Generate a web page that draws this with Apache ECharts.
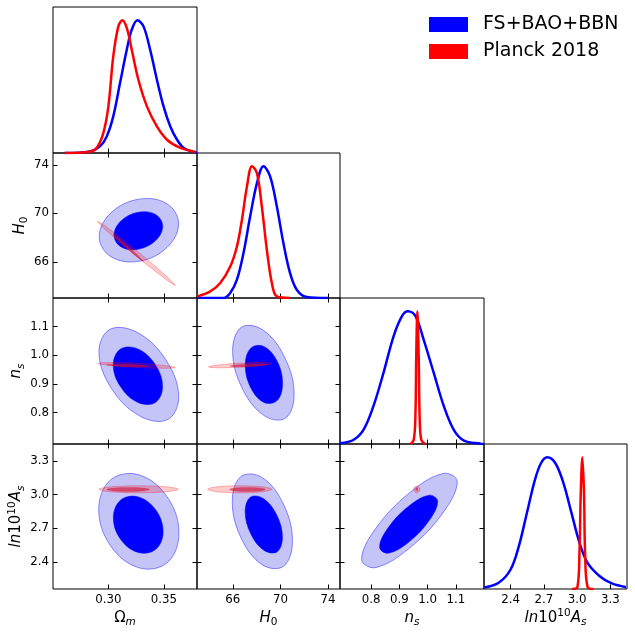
<!DOCTYPE html>
<html>
<head>
<meta charset="utf-8">
<script src="https://cdn.jsdelivr.net/npm/echarts@6/dist/echarts.min.js"></script>
<style>
  html, body { margin: 0; padding: 0; background: #fff; }
  #main { width: 635px; height: 636px; }
</style>
</head>
<body>
<div id="main"></div>
<script>
// axis ranges and tick labels
const omRange = [0.25, 0.38];
const h0Range = [63, 75];
const nsRange = [0.69, 1.2];
const asRange = [2.16, 3.45];
const omTicks = [0.30, 0.35];
const h0Ticks = [66, 70, 74];
const nsTicks = [0.8, 0.9, 1.0, 1.1];
const asTicks = [2.4, 2.7, 3.0, 3.3];

// 1D marginals [value, normalised density]
const omBlue1d = [[0.2606,0],[0.2833,0.012],[0.2924,0.05],[0.2985,0.125],[0.3044,0.276],[0.3105,0.527],[0.3166,0.778],[0.3211,0.929],[0.3262,1.0],[0.3317,0.954],[0.3377,0.778],[0.3438,0.552],[0.3498,0.351],[0.3559,0.2],[0.3620,0.1],[0.3680,0.038],[0.3770,0.008],[0.38,0.004]];
const omRed1d = [[0.2606,0],[0.2833,0.01],[0.2894,0.038],[0.2954,0.15],[0.3000,0.351],[0.3044,0.728],[0.3090,0.954],[0.3126,1.0],[0.3166,0.942],[0.3211,0.778],[0.3271,0.552],[0.3348,0.351],[0.3438,0.2],[0.3529,0.1],[0.3650,0.038],[0.3786,0.008]];
const h0Blue1d = [[63,0],[65.23,0],[65.79,0.038],[66.35,0.139],[66.9,0.341],[67.46,0.618],[68.03,0.871],[68.58,1.0],[69.14,0.921],[69.70,0.694],[70.25,0.417],[70.81,0.189],[71.37,0.063],[72.2,0.008],[74.0,0]];
const h0Red1d = [[63.05,0.012],[64.11,0.05],[64.95,0.114],[65.79,0.239],[66.35,0.391],[66.77,0.593],[67.19,0.845],[67.61,1.0],[68.03,0.947],[68.44,0.694],[68.86,0.366],[69.28,0.114],[69.7,0.012],[70.81,0]];
const nsBlue1d = [[0.69,0.005],[0.737,0.03],[0.773,0.106],[0.808,0.283],[0.844,0.536],[0.880,0.813],[0.910,0.965],[0.931,1.0],[0.957,0.965],[0.986,0.788],[1.022,0.536],[1.058,0.283],[1.093,0.106],[1.129,0.025],[1.188,0.002],[1.2,0]];
const nsRed1d = [[0.939,0],[0.951,0.03],[0.957,0.207],[0.960,0.66],[0.964,1.0],[0.9687,0.66],[0.972,0.207],[0.978,0.03],[0.9925,0]];
const asBlue1d = [[2.164,0.011],[2.292,0.047],[2.4,0.148],[2.474,0.324],[2.547,0.577],[2.620,0.83],[2.675,0.956],[2.730,1.0],[2.803,0.956],[2.876,0.805],[2.949,0.577],[3.022,0.35],[3.094,0.198],[3.204,0.097],[3.313,0.042],[3.441,0.014]];
const asRed1d = [[2.956,0],[3.003,0.015],[3.021,0.27],[3.033,0.73],[3.047,1.0],[3.062,0.73],[3.072,0.27],[3.094,0.015],[3.149,0]];

// 2D contours, outline vertices [x, y] (95% and 68%)
const h0OmBlue95 = [[0.3634,69.15],[0.3529,70.80],[0.3276,71.18],[0.3023,70.04],[0.2917,68.07],[0.3023,66.42],[0.3276,66.04],[0.3529,67.18]];
const h0OmBlue68 = [[0.3490,68.94],[0.3426,69.91],[0.3270,70.10],[0.3115,69.39],[0.3051,68.20],[0.3115,67.23],[0.3270,67.04],[0.3426,67.75]];
const h0OmRed95 = [[0.3604,64.04],[0.3510,64.92],[0.3266,66.83],[0.3015,68.66],[0.2903,69.34],[0.2997,68.46],[0.3241,66.55],[0.3493,64.72]];
const h0OmRed68 = [[0.3317,66.03],[0.3281,66.40],[0.3187,67.20],[0.3089,67.96],[0.3044,68.24],[0.3080,67.86],[0.3174,67.06],[0.3272,66.30]];

const nsOmBlue95 = [[0.3635,0.8521],[0.3530,0.9773],[0.3275,1.0765],[0.3020,1.0917],[0.2915,1.0139],[0.3020,0.8887],[0.3275,0.7895],[0.3530,0.7744]];
const nsOmBlue68 = [[0.3489,0.8898],[0.3424,0.9671],[0.3267,1.0220],[0.3110,1.0220],[0.3044,0.9671],[0.3110,0.8898],[0.3267,0.8349],[0.3424,0.8349]];
const nsOmRed95 = [[0.3604,0.9573],[0.3502,0.9643],[0.3256,0.9714],[0.3010,0.9743],[0.2908,0.9714],[0.3010,0.9644],[0.3256,0.9574],[0.3502,0.9545]];
const nsOmRed68 = [[0.3362,0.9619],[0.3307,0.9654],[0.3174,0.9682],[0.3040,0.9686],[0.2985,0.9664],[0.3040,0.9629],[0.3174,0.9602],[0.3307,0.9597]];

const nsH0Blue95 = [[71.15,0.8616],[70.40,0.9890],[68.57,1.0871],[66.74,1.0983],[65.99,1.0164],[66.74,0.8891],[68.57,0.7909],[70.40,0.7797]];
const nsH0Blue68 = [[70.18,0.9014],[69.72,0.9798],[68.61,1.0308],[67.51,1.0245],[67.05,0.9647],[67.51,0.8862],[68.61,0.8352],[69.72,0.8416]];
const nsH0Red95 = [[69.28,0.9714],[68.50,0.9746],[66.63,0.9724],[64.75,0.9661],[63.97,0.9594],[64.75,0.9562],[66.63,0.9584],[68.50,0.9647]];
const nsH0Red68 = [[68.86,0.968],[68.41,0.9700],[67.33,0.969],[66.24,0.9657],[65.79,0.962],[66.24,0.9600],[67.33,0.961],[68.41,0.9643]];

const asOmBlue95 = [[0.3637,2.6555],[0.3531,2.9794],[0.3275,3.1760],[0.3019,3.1306],[0.2913,2.8690],[0.3019,2.5452],[0.3275,2.3486],[0.3531,2.3940]];
const asOmBlue68 = [[0.3494,2.6697],[0.3428,2.8628],[0.3270,2.9794],[0.3111,2.9509],[0.3045,2.7943],[0.3111,2.6012],[0.3270,2.4847],[0.3428,2.5132]];
const asOmRed95 = [[0.3631,3.047],[0.3526,3.069],[0.3273,3.078],[0.3019,3.069],[0.2914,3.047],[0.3019,3.025],[0.3273,3.016],[0.3526,3.025]];
const asOmRed68 = [[0.3371,3.045],[0.3315,3.058],[0.3178,3.063],[0.3042,3.058],[0.2985,3.045],[0.3042,3.032],[0.3178,3.027],[0.3315,3.032]];

const asH0Blue95 = [[71.01,2.5843],[70.27,2.9109],[68.49,3.1502],[66.70,3.1617],[65.96,2.9402],[66.70,2.6137],[68.49,2.3744],[70.27,2.3628]];
const asH0Blue68 = [[70.17,2.6181],[69.71,2.8139],[68.60,2.9625],[67.50,2.9776],[67.04,2.8495],[67.50,2.6537],[68.60,2.5052],[69.71,2.4900]];
const asH0Red95 = [[69.29,3.047],[68.50,3.069],[66.60,3.078],[64.69,3.069],[63.9,3.047],[64.69,3.025],[66.60,3.016],[68.50,3.025]];
const asH0Red68 = [[68.72,3.045],[68.28,3.058],[67.23,3.063],[66.17,3.058],[65.73,3.045],[66.17,3.032],[67.23,3.027],[68.28,3.032]];

const asNsBlue95 = [[1.1053,3.1164],[1.0557,3.1884],[0.9359,3.0150],[0.8162,2.6973],[0.7665,2.4224],[0.8162,2.3504],[0.9359,2.5238],[1.0557,2.8415]];
const asNsBlue68 = [[1.0359,2.9411],[1.0057,2.9945],[0.9331,2.8966],[0.8605,2.7044],[0.8302,2.5319],[0.8605,2.4785],[0.9331,2.5763],[1.0057,2.7685]];
const asNsRed95 = [[0.973,3.047],[0.9698,3.068],[0.962,3.077],[0.9542,3.068],[0.951,3.047],[0.9542,3.026],[0.962,3.017],[0.9698,3.026]];
const asNsRed68 = [[0.966,3.047],[0.9648,3.056],[0.962,3.060],[0.9592,3.056],[0.958,3.047],[0.9592,3.038],[0.962,3.034],[0.9648,3.038]];

const blueName = 'FS+BAO+BBN';
const redName = 'Planck 2018';

// panel layout (pixel edges of the grid cells)
const colEdges = [53, 197, 340, 484, 627];
const rowEdges = [7, 153, 298, 444, 589];

const params = [
  { range: omRange, ticks: omTicks, dec: 2, name: '{rm|Ω}{sub|m}' },
  { range: h0Range, ticks: h0Ticks, dec: 0, name: '{it|H}{subr|0}' },
  { range: nsRange, ticks: nsTicks, dec: 1, name: '{it|n}{sub|s}' },
  { range: asRange, ticks: asTicks, dec: 1, name: '{it|ln}{rm|10}{sup|10}{it|A}{sub|s}' }
];

const marginals = [
  [omBlue1d, omRed1d], [h0Blue1d, h0Red1d], [nsBlue1d, nsRed1d], [asBlue1d, asRed1d]
];

const contours = {
  '1-0': [h0OmBlue95, h0OmBlue68, h0OmRed95, h0OmRed68],
  '2-0': [nsOmBlue95, nsOmBlue68, nsOmRed95, nsOmRed68],
  '2-1': [nsH0Blue95, nsH0Blue68, nsH0Red95, nsH0Red68],
  '3-0': [asOmBlue95, asOmBlue68, asOmRed95, asOmRed68],
  '3-1': [asH0Blue95, asH0Blue68, asH0Red95, asH0Red68],
  '3-2': [asNsBlue95, asNsBlue68, asNsRed95, asNsRed68]
};

const contourStyle = [
  { name: blueName, fill: '#c4c4f7', stroke: 'rgba(0,0,255,0.55)', lw: 0.8 },
  { name: blueName, fill: '#0000ff', stroke: '#0000ff', lw: 0.5 },
  { name: redName, fill: 'rgba(255,0,0,0.2)', stroke: 'rgba(255,0,0,0.35)', lw: 0.8 },
  { name: redName, fill: 'rgba(215,15,45,0.6)', stroke: 'rgba(215,15,45,0.6)', lw: 0.3 }
];

const FONT = 'DejaVu Sans';
const nameRich = {
  rm: { fontSize: 15, fontFamily: FONT, lineHeight: 20, verticalAlign: 'middle', color: '#000' },
  it: { fontSize: 15, fontFamily: FONT, fontStyle: 'italic', lineHeight: 20, verticalAlign: 'middle', color: '#000' },
  sub: { fontSize: 10.5, fontFamily: FONT, fontStyle: 'italic', lineHeight: 10, verticalAlign: 'bottom', color: '#000' },
  subr: { fontSize: 10.5, fontFamily: FONT, lineHeight: 10, verticalAlign: 'bottom', color: '#000' },
  sup: { fontSize: 10.5, fontFamily: FONT, lineHeight: 10, verticalAlign: 'top', color: '#000' }
};

const grids = [], xAxes = [], yAxes = [], series = [];

function tickAxis(p, extra) {
  return Object.assign({
    type: 'value',
    min: p.range[0],
    max: p.range[1],
    axisLine: { show: false },
    splitLine: { show: false },
    axisTick: { show: true, inside: true, length: 4.5, customValues: p.ticks, lineStyle: { color: '#000', width: 1 } },
    axisLabel: { show: false }
  }, extra);
}

function labelOpts(p, margin) {
  return {
    show: true, margin: margin, customValues: p.ticks,
    fontFamily: FONT, fontSize: 11.8, color: '#000',
    formatter: v => Number(v).toFixed(p.dec)
  };
}

for (let i = 0; i < 4; i++) {
  for (let j = 0; j <= i; j++) {
    const g = grids.length;
    grids.push({
      left: colEdges[j], top: rowEdges[i],
      width: colEdges[j + 1] - colEdges[j], height: rowEdges[i + 1] - rowEdges[i],
      show: true, borderColor: '#000', borderWidth: 1, backgroundColor: 'transparent'
    });
    const px = params[j];
    const xi = xAxes.length;
    const xb = tickAxis(px, { gridIndex: g, position: 'bottom' });
    if (i === 3) {
      xb.axisLabel = labelOpts(px, 5);
      xb.name = px.name;
      xb.nameLocation = 'middle';
      xb.nameGap = 19;
      xb.nameTextStyle = { rich: nameRich };
    }
    xAxes.push(xb);

    if (i === j) {
      const yi = yAxes.length;
      yAxes.push({ gridIndex: g, type: 'value', min: 0, max: 1.1, show: false });
      marginals[i].forEach((d, k) => {
        series.push({
          type: 'line', name: k ? redName : blueName,
          xAxisIndex: xi, yAxisIndex: yi, data: d,
          smooth: 0.35, showSymbol: false, silent: true,
          lineStyle: { color: k ? '#ff0000' : '#0000ff', width: 2.5 },
          itemStyle: { color: k ? '#ff0000' : '#0000ff' },
          z: 3
        });
      });
    } else {
      xAxes.push(tickAxis(px, { gridIndex: g, position: 'top' }));
      const py = params[i];
      const yi = yAxes.length;
      const yl = tickAxis(py, { gridIndex: g, position: 'left' });
      if (j === 0) {
        yl.axisLabel = labelOpts(py, 4);
        yl.name = py.name;
        yl.nameLocation = 'middle';
        yl.nameGap = 22;
        yl.nameTextStyle = { rich: nameRich };
      }
      yAxes.push(yl);
      yAxes.push(tickAxis(py, { gridIndex: g, position: 'right' }));
      contours[i + '-' + j].forEach((pts, k) => {
        const st = contourStyle[k];
        series.push({
          type: 'custom', name: st.name,
          xAxisIndex: xi, yAxisIndex: yi, data: pts, silent: true,
          itemStyle: { color: k < 2 ? '#0000ff' : '#ff0000' },
          renderItem: function (prm, api) {
            if (prm.dataIndex !== 0) return null;
            const p = pts.map(d => api.coord(d));
            return {
              type: 'polygon',
              shape: { points: p, smooth: 0.38 },
              style: { fill: st.fill, stroke: st.stroke, lineWidth: st.lw }
            };
          }
        });
      });
    }
  }
}

const chart = echarts.init(document.getElementById('main'), null, { renderer: 'canvas' });
chart.setOption({
  backgroundColor: '#fff',
  animation: false,
  grid: grids,
  xAxis: xAxes,
  yAxis: yAxes,
  legend: {
    left: 429, top: 15, orient: 'vertical', padding: 0,
    icon: 'rect', itemWidth: 39, itemHeight: 15, itemGap: 8,
    selectedMode: false,
    textStyle: { fontFamily: FONT, fontSize: 19, color: '#000', padding: [0, 0, 0, 10] },
    data: [
      { name: blueName, itemStyle: { color: '#0000ff' } },
      { name: redName, itemStyle: { color: '#ff0000' } }
    ]
  },
  series: series
});
</script>
</body>
</html>
